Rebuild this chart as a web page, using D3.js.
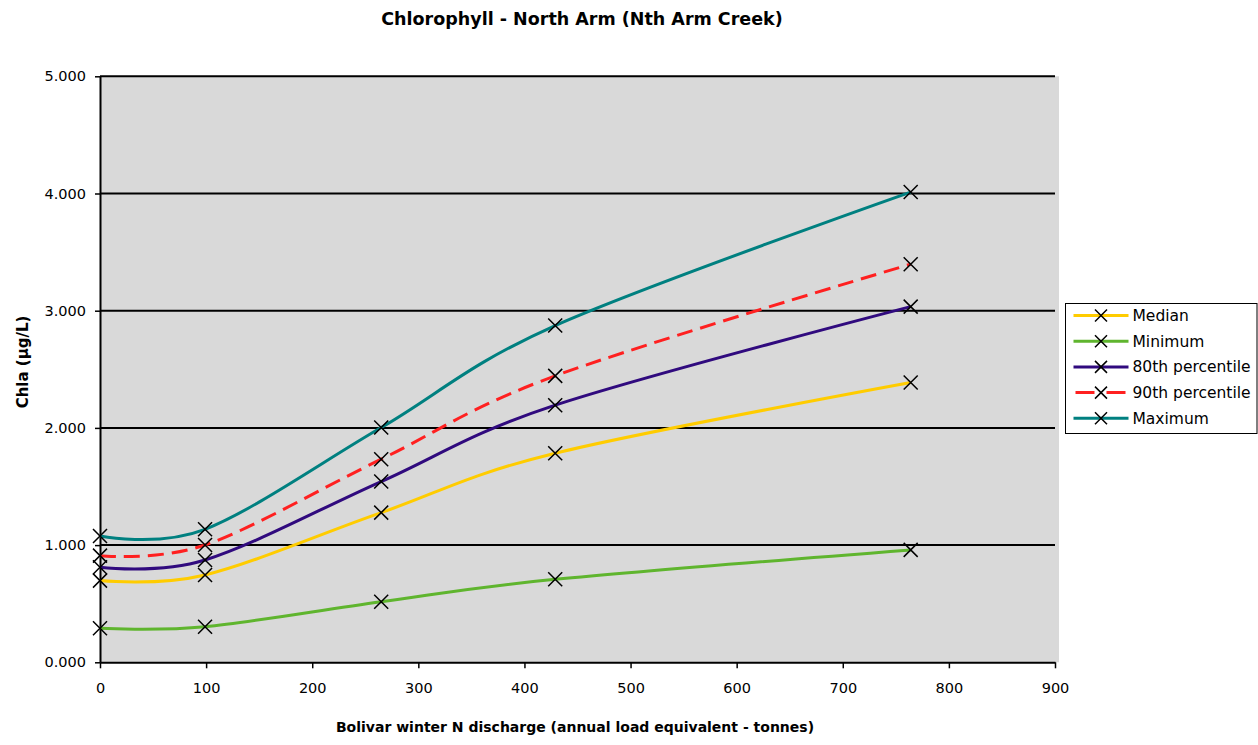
<!DOCTYPE html>
<html>
<head>
<meta charset="utf-8">
<script src="https://cdn.jsdelivr.net/npm/d3@7"></script>
<style>
  body { margin: 0; background: #fff; }
  svg text { font-family: "DejaVu Sans", Tahoma, sans-serif; fill: #000; }
</style>
</head>
<body>
<div id="chart"></div>
<script>
// Chlorophyll vs Bolivar winter N discharge, North Arm

const discharge = [0, 99, 265, 429, 764]; // tonnes
const median = [0.697, 0.745, 1.277, 1.784, 2.387];
const minimum = [0.290, 0.304, 0.517, 0.708, 0.959];
const pct80 = [0.811, 0.873, 1.542, 2.194, 3.035];
const pct90 = [0.910, 1.001, 1.733, 2.444, 3.397];
const maximum = [1.078, 1.135, 2.003, 2.873, 4.012];

const seriesNames = ["Median", "Minimum", "80th percentile", "90th percentile", "Maximum"];
const xTicks = [0, 100, 200, 300, 400, 500, 600, 700, 800, 900];
const yTicks = [0, 1, 2, 3, 4, 5];

const chartTitle = "Chlorophyll - North Arm (Nth Arm Creek)";
const xTitle = "Bolivar winter N discharge (annual load equivalent - tonnes)";
const yTitle = "Chla (\u00b5g/L)";

const colors = ["#ffcc00", "#5fb52e", "#300a7e", "#ff2020", "#008080"];
const dashes = [null, null, null, "16,8", null];

const W = 1258, H = 745;
const p_l = 100, p_r = 1055, p_t = 76.3, p_b = 662.3; // plot edges

const svg = d3.select("#chart").append("svg")
  .attr("width", W)
  .attr("height", H);

const xScale = d3.scaleLinear().domain([0, 900]).range([p_l, p_r]);
const yScale = d3.scaleLinear().domain([0, 5]).range([p_b, p_t]);

// plot background
svg.append("rect")
  .attr("x", p_l)
  .attr("y", p_t)
  .attr("width", p_r - p_l + 4)
  .attr("height", p_b - p_t)
  .attr("fill", "#d9d9d9");

// gridlines
svg.append("g")
  .selectAll("line")
  .data(yTicks.filter(d => d > 0))
  .join("line")
  .attr("x1", p_l)
  .attr("x2", p_r)
  .attr("y1", d => yScale(d))
  .attr("y2", d => yScale(d))
  .attr("stroke", "#000")
  .attr("stroke-width", 2);

// axes
const yAxis = svg.append("g")
  .attr("transform", `translate(${p_l},0)`)
  .call(d3.axisLeft(yScale).tickValues(yTicks).tickFormat(d3.format(".3f")).tickSize(5).tickPadding(9).tickSizeOuter(0));

const xAxis = svg.append("g")
  .attr("transform", `translate(0,${p_b})`)
  .call(d3.axisBottom(xScale).tickValues(xTicks).tickSize(6).tickPadding(14).tickSizeOuter(0));

[xAxis, yAxis].forEach(ax => {
  ax.select(".domain").attr("stroke", "#000").attr("stroke-width", 2);
  ax.selectAll(".tick line").attr("stroke", "#000").attr("stroke-width", 1.5);
  ax.selectAll(".tick text").style("font-size", "14.5px").style("font-family", "\"DejaVu Sans\", sans-serif").attr("fill", "#000");
});

// series
const allSeries = [median, minimum, pct80, pct90, maximum].map((vals, i) => ({
  name: seriesNames[i],
  color: colors[i],
  dash: dashes[i],
  points: vals.map((v, j) => [discharge[j], v])
}));

const line = d3.line()
  .x(d => xScale(d[0]))
  .y(d => yScale(d[1]))
  .curve(d3.curveCardinal.tension(0));

const crossPath = s => `M${-s},${-s}L${s},${s}M${-s},${s}L${s},${-s}`;

allSeries.forEach(s => {
  svg.append("path")
    .datum(s.points)
    .attr("d", line)
    .attr("fill", "none")
    .attr("stroke", s.color)
    .attr("stroke-width", 3)
    .attr("stroke-dasharray", s.dash);
});

allSeries.forEach(s => {
  svg.append("g")
    .selectAll("path")
    .data(s.points)
    .join("path")
    .attr("transform", d => `translate(${xScale(d[0])},${yScale(d[1])})`)
    .attr("d", crossPath(7))
    .attr("stroke", "#000")
    .attr("stroke-width", 1.5)
    .attr("fill", "none");
});

// titles
svg.append("text")
  .attr("x", 582)
  .attr("y", 25)
  .attr("text-anchor", "middle")
  .style("font-size", "17.5px")
  .style("font-weight", "bold")
  .text(chartTitle);

svg.append("text")
  .attr("x", 575)
  .attr("y", 732)
  .attr("text-anchor", "middle")
  .style("font-size", "14px")
  .style("font-weight", "bold")
  .text(xTitle);

svg.append("text")
  .attr("transform", "translate(28,362) rotate(-90)")
  .attr("text-anchor", "middle")
  .style("font-size", "15px")
  .style("font-weight", "bold")
  .text(yTitle);

// legend
const legend = svg.append("g").attr("transform", "translate(1065.5,303.5)");
legend.append("rect")
  .attr("width", 191.5)
  .attr("height", 130)
  .attr("fill", "#fff")
  .attr("stroke", "#000")
  .attr("stroke-width", 1);

const items = legend.selectAll("g.item")
  .data(allSeries)
  .join("g")
  .attr("class", "item")
  .attr("transform", (d, i) => `translate(0,${12 + i * 25.7})`);

items.append("line")
  .attr("x1", 8)
  .attr("x2", 63)
  .attr("stroke", d => d.color)
  .attr("stroke-width", 3)
  .attr("stroke-dasharray", d => d.dash ? "19,12" : null)
  .attr("stroke-dashoffset", d => d.dash ? -2 : null);

items.append("path")
  .attr("transform", "translate(35.5,0)")
  .attr("d", crossPath(6))
  .attr("stroke", "#000")
  .attr("stroke-width", 1.5);

items.append("text")
  .attr("x", 67)
  .attr("y", 0)
  .attr("dy", "0.36em")
  .style("font-size", "15.5px")
  .text(d => d.name);
</script>
</body>
</html>
